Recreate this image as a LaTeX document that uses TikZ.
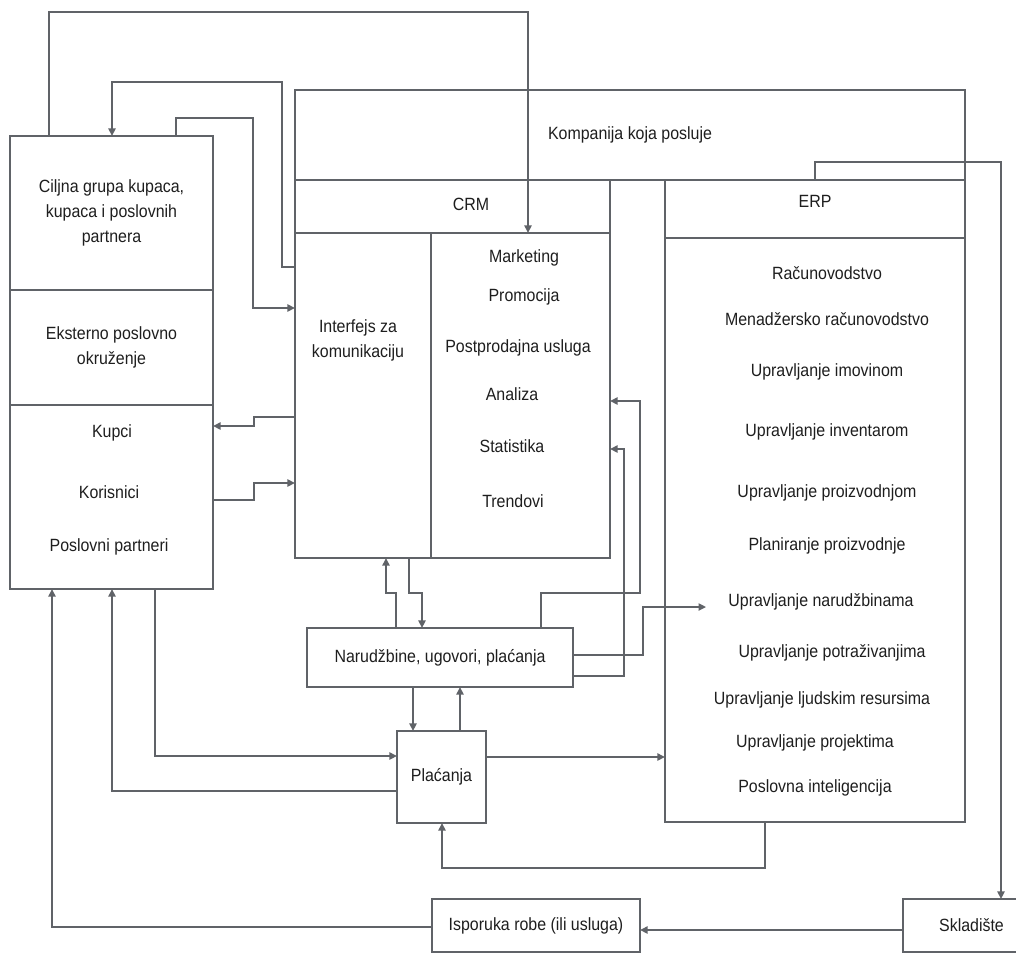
\documentclass[tikz,border=0pt]{standalone}
\usepackage{fontspec}
\setmainfont{Liberation Sans}[FakeStretch=0.9]
\usetikzlibrary{arrows.meta,calc}
\definecolor{lne}{RGB}{96,99,104}
\definecolor{txtc}{RGB}{30,30,30}

\begin{document}
\begin{tikzpicture}[x=0.025cm,y=-0.025cm,font=\fontsize{12.6}{17.8}\selectfont,box/.style={draw=lne,line width=1.8pt,outer sep=0pt,inner sep=0pt,align=center,text=txtc},txt/.style={inner sep=0pt,align=center,text=txtc},arr/.style={-{Triangle[length=1.9mm,width=1.8mm]},draw=lne,line width=1.3pt}]
\useasboundingbox (0,0) rectangle (1016,954);
\node[box,minimum width=16.75cm,minimum height=2.25cm] (komp) at (630,135) {Kompanija koja posluje};
\node[box,minimum width=7.875cm,minimum height=1.325cm] (crmhead) at (452.5,206.5) {};
\node[box,minimum width=3.4cm,minimum height=8.125cm] (iface) at (363,395.5) {};
\node[box,minimum width=4.475cm,minimum height=8.125cm] (crmlist) at (520.5,395.5) {};
\node[box,minimum width=7.5cm,minimum height=1.45cm] (erphead) at (815,209) {};
\node[box,minimum width=7.5cm,minimum height=14.6cm] (erplist) at (815,530) {};
\node[box,minimum width=5.075cm,minimum height=3.85cm] (cilj) at (111.5,213) {Ciljna grupa kupaca,\\kupaca i poslovnih\\partnera};
\node[box,minimum width=5.075cm,minimum height=2.875cm] (eks) at (111.5,347.5) {Eksterno poslovno\\okruženje};
\node[box,minimum width=5.075cm,minimum height=4.6cm] (kup) at (111.5,497) {};
\node[box,minimum width=6.65cm,minimum height=1.475cm] (narud) at (440,657.5) {Narudžbine, ugovori, plaćanja};
\node[box,minimum width=2.225cm,minimum height=2.3cm] (plac) at (441.5,777) {Plaćanja};
\node[box,minimum width=5.2cm,minimum height=1.325cm] (ispor) at (536,925.5) {Isporuka robe (ili usluga)};
\node[box,minimum width=3.425cm,minimum height=1.325cm] (sklad) at (971.5,925.5) {Skladište};
% labels inside the boxes
\node[txt] (crmlbl) at (471,204) {CRM};
\node[txt] (erplbl) at (815,201) {ERP};
\node[txt] (ifacetxt) at (358,340) {Interfejs za\\komunikaciju};
\node[txt] (tmark) at (524,258) {Marketing};
\node[txt] (tprom) at (524,297) {Promocija};
\node[txt] (tpost) at (518,348) {Postprodajna usluga};
\node[txt] (tanal) at (512,394) {Analiza};
\node[txt] (tstat) at (512,446) {Statistika};
\node[txt] (ttren) at (513,501) {Trendovi};
\node[txt] (tkupci) at (112,433) {Kupci};
\node[txt] (tkoris) at (109,492) {Korisnici};
\node[txt] (tposl) at (109,547) {Poslovni partneri};
\node[txt] (tracun) at (827,273) {Računovodstvo};
\node[txt] (tmenad) at (827,319) {Menadžersko računovodstvo};
\node[txt] (timov) at (827,372) {Upravljanje imovinom};
\node[txt] (tinv) at (827,432) {Upravljanje inventarom};
\node[txt] (tproizv) at (827,493) {Upravljanje proizvodnjom};
\node[txt] (tplan) at (827,546) {Planiranje proizvodnje};
\node[txt] (tnarud) at (821,602) {Upravljanje narudžbinama};
\node[txt] (tpotr) at (832,653) {Upravljanje potraživanjima};
\node[txt] (tljud) at (822,700) {Upravljanje ljudskim resursima};
\node[txt] (tproj) at (815,743) {Upravljanje projektima};
\node[txt] (tbi) at (815,788) {Poslovna inteligencija};
% connectors
\draw[arr] (cilj.north -| 49,0) |- (528,12) -- (crmlist.north -| 528,0);
\draw[arr] (iface.west |- 0,267) -| (282,82) -| (cilj.north -| 112,0);
\draw[arr] (cilj.north -| 176,0) |- (253,118) |- (iface.west |- 0,308);
\draw[arr] (iface.west |- 0,417) -- (254,417) |- (kup.east |- 0,426);
\draw[arr] (kup.east |- 0,500) -- (254,500) |- (iface.west |- 0,483);
\draw[arr] (narud.north -| 396,0) |- (386,593) -- (iface.south -| 386,0);
\draw[arr] (iface.south -| 409,0) |- (422,593) -- (narud.north -| 422,0);
\draw[arr] (narud.north -| 541,0) |- (640,593) |- (crmlist.east |- 0,401);
\draw[arr] (narud.east |- 0,676) -| (624,449) -- (crmlist.east |- 0,449);
\draw[arr] (narud.east |- 0,655) -| (643,607) -- ($(tnarud.west)+(-22,5)$);
\draw[arr] (narud.south -| 413,0) -- (plac.north -| 413,0);\draw[arr] (plac.north -| 460,0) -- (narud.south -| 460,0);
\draw[arr] (plac.east |- 0,757) -- (erplist.west |- 0,757);
\draw[arr] (kup.south -| 155,0) |- (plac.west |- 0,756);
\draw[arr] (plac.west |- 0,791) -| (kup.south -| 112,0);
\draw[arr] (ispor.west |- 0,927) -| (kup.south -| 52,0);
\draw[arr] (erplist.south -| 765,0) |- (442,868) -- (plac.south -| 442,0);
\draw[arr] (erphead.north -| 815,0) |- (1001,162) -- (sklad.north -| 1001,0);
\draw[arr] (sklad.west |- 0,930) -- (ispor.east |- 0,930);
\end{tikzpicture}
\end{document}
